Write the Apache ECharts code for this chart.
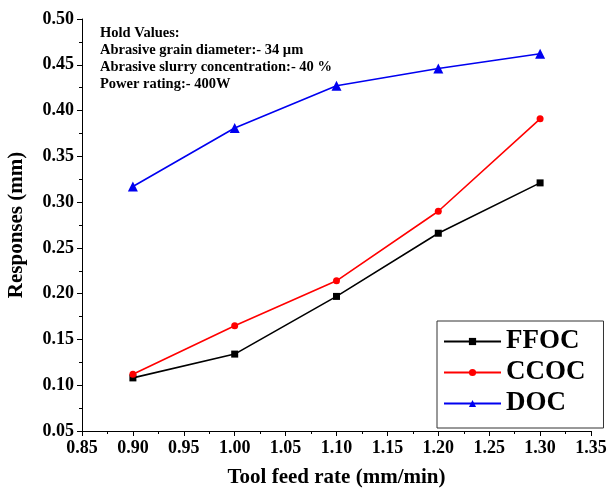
<!DOCTYPE html>
<html>
<head>
<meta charset="utf-8">
<script src="https://cdn.jsdelivr.net/npm/echarts@6/dist/echarts.min.js"></script>
<style>
  html, body { margin: 0; padding: 0; background: #fff; }
  #chart { width: 609px; height: 491px; }
</style>
</head>
<body>
<div id="chart"></div>
<script>
// feed rate values (x) and the three responses
var feedRate = [0.90, 1.00, 1.10, 1.20, 1.30];
var ffoc = [0.108, 0.134, 0.197, 0.266, 0.321];
var ccoc = [0.112, 0.165, 0.214, 0.290, 0.391];
var doc = [0.317, 0.381, 0.427, 0.446, 0.462];
var holdLines = [
    'Hold Values:',
    'Abrasive grain diameter:- 34 \u00b5m',
    'Abrasive slurry concentration:- 40 %',
    'Power rating:- 400W'
];

var serif = "'Liberation Serif', 'Times New Roman', serif";

function pairs(ys) {
    return feedRate.map(function(x, i) { return [x, ys[i]]; });
}

var chart = echarts.init(document.getElementById('chart'));

function makeSeries(name, ys, color, symbol, size) {
    return {
        name: name,
        type: 'line',
        data: pairs(ys),
        symbol: symbol,
        symbolSize: size,
        lineStyle: { color: color, width: 1.6 },
        itemStyle: { color: color },
        animation: false
    };
}

var axisCommon = {
    axisLine: { show: true, lineStyle: { color: '#000', width: 1 } },
    axisTick: { show: true, inside: false, length: 5, lineStyle: { color: '#000' } },
    minorTick: { show: true, splitNumber: 2, length: 3, lineStyle: { color: '#000' } },
    splitLine: { show: false },
    axisLabel: {
        color: '#000',
        fontFamily: serif,
        fontWeight: 'bold',
        fontSize: 18,
        margin: 8,
        formatter: function(v) { return v.toFixed(2); }
    },
    nameTextStyle: { color: '#000', fontFamily: serif, fontWeight: 'bold', fontSize: 21 }
};

var option = {
    backgroundColor: '#fff',
    title: {
        text: holdLines.join('\n'),
        left: 95,
        top: 20,
        textStyle: {
            color: '#000',
            fontFamily: serif,
            fontWeight: 'bold',
            fontSize: 14.5,
            lineHeight: 17
        }
    },
    grid: {
        left: 82, right: 18, top: 19, bottom: 60,
        containLabel: false,
        outerBoundsMode: 'none'
    },
    xAxis: Object.assign({}, axisCommon, {
        type: 'value',
        min: 0.85,
        max: 1.35,
        interval: 0.05,
        name: 'Tool feed rate (mm/min)',
        nameLocation: 'middle',
        nameGap: 36
    }),
    yAxis: Object.assign({}, axisCommon, {
        type: 'value',
        min: 0.05,
        max: 0.50,
        interval: 0.05,
        name: 'Responses (mm)',
        nameLocation: 'middle',
        nameGap: 55
    }),
    legend: {
        orient: 'vertical',
        left: 437,
        top: 321,
        padding: [7, 18, 11, 6],
        itemGap: 4,
        itemWidth: 57,
        itemHeight: 9,
        borderColor: '#333',
        borderWidth: 1,
        backgroundColor: '#fff',
        textStyle: {
            color: '#000',
            fontFamily: serif,
            fontWeight: 'bold',
            fontSize: 27
        },
        data: ['FFOC', 'CCOC', 'DOC']
    },
    series: [
        makeSeries('FFOC', ffoc, '#000000', 'rect', 7),
        makeSeries('CCOC', ccoc, '#ff0000', 'circle', 7),
        makeSeries('DOC', doc, '#0000f0', 'triangle', 10)
    ]
};

chart.setOption(option);
</script>
</body>
</html>
